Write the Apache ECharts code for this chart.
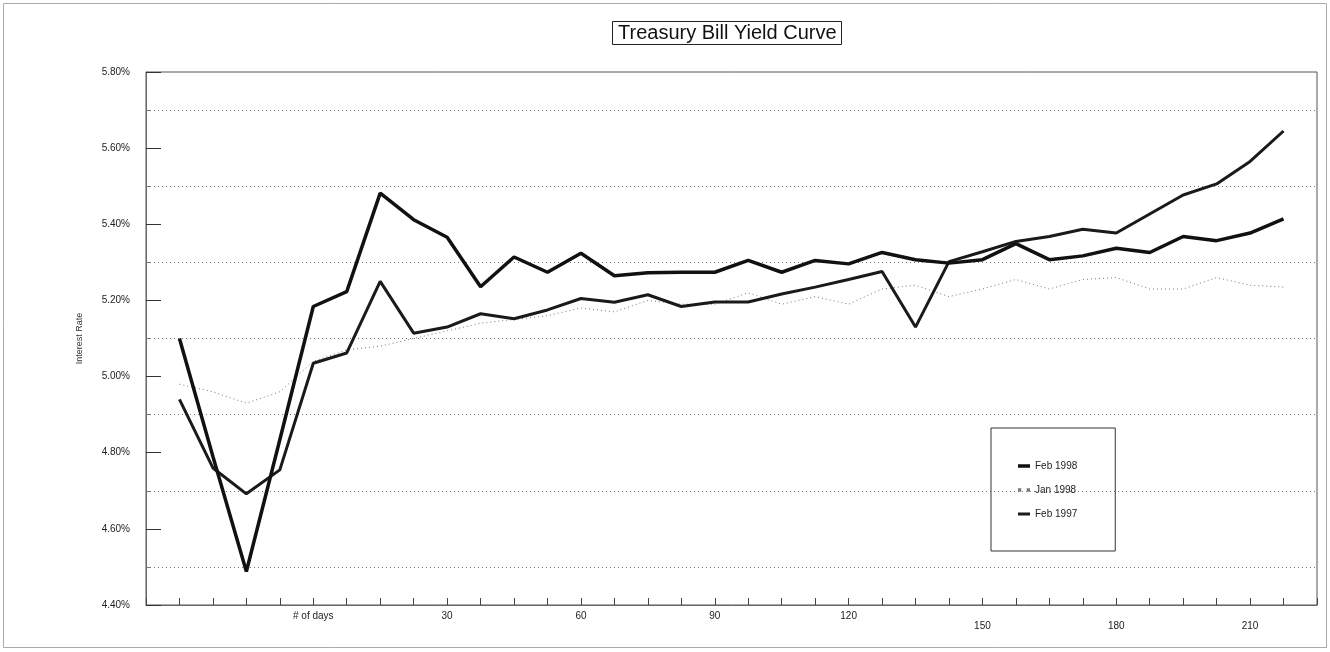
<!DOCTYPE html>
<html>
<head>
<meta charset="utf-8">
<title>Treasury Bill Yield Curve</title>
<script src="https://cdn.jsdelivr.net/npm/echarts@6/dist/echarts.min.js"></script>
<style>
  html, body { margin: 0; padding: 0; background: #fff; }
  #chart { width: 1330px; height: 652px; }
</style>
</head>
<body>
<div id="chart"></div>
<script>
// x positions 0..35, data runs from 1 to 34
const tickLabels = [
  '', '', '', '', '', '# of days', '', '', '', '30', '', '', '', '60',
  '', '', '', '90', '', '', '', '120', '', '', '', '150', '', '', '',
  '180', '', '', '', '210', '', ''
];
const lowLabels = ['150', '180', '210'];

const feb1998 = [5.10, 4.79, 4.488, 4.834, 5.184, 5.223, 5.482, 5.412, 5.366, 5.236,
  5.314, 5.274, 5.324, 5.265, 5.273, 5.274, 5.274, 5.305, 5.274, 5.305,
  5.296, 5.326, 5.307, 5.298, 5.307, 5.349, 5.307, 5.317, 5.337, 5.326,
  5.368, 5.357, 5.377, 5.414];
const jan1998 = [4.98, 4.96, 4.93, 4.96, 5.04, 5.07, 5.08, 5.10, 5.12, 5.14,
  5.15, 5.16, 5.18, 5.17, 5.20, 5.19, 5.19, 5.22, 5.19, 5.21,
  5.19, 5.23, 5.24, 5.21, 5.23, 5.255, 5.23, 5.255, 5.26, 5.23,
  5.23, 5.26, 5.24, 5.235];
const feb1997 = [4.94, 4.76, 4.692, 4.755, 5.035, 5.062, 5.25, 5.114, 5.13, 5.165,
  5.152, 5.175, 5.205, 5.195, 5.215, 5.184, 5.196, 5.196, 5.217, 5.235,
  5.255, 5.276, 5.13, 5.302, 5.328, 5.355, 5.368, 5.387, 5.377, 5.427,
  5.477, 5.506, 5.565, 5.645];

const font = "'Liberation Sans', Arial, sans-serif";
const pad = arr => [null].concat(arr);

const chart = echarts.init(document.getElementById('chart'));
chart.setOption({
  backgroundColor: '#fff',
  animation: false,
  textStyle: { fontFamily: font },
  title: {
    text: 'Treasury Bill Yield Curve',
    left: 612,
    top: 21,
    padding: [2, 5, 2, 6],
    borderColor: '#222',
    borderWidth: 1,
    textStyle: { fontSize: 20, fontWeight: 'normal', color: '#111', fontFamily: font }
  },
  graphic: [{
    type: 'rect',
    shape: { x: 3.5, y: 3.5, width: 1323, height: 644 },
    style: { fill: 'none', stroke: '#aaa', lineWidth: 1 },
    silent: true
  }],
  legend: {
    orient: 'vertical',
    left: 991,
    top: 428,
    padding: [33, 38, 32, 27],
    itemGap: 14,
    itemWidth: 12,
    itemHeight: 8,
    borderColor: '#333',
    borderWidth: 1,
    textStyle: { fontSize: 10, color: '#222', fontFamily: font },
    data: [
      { name: 'Feb 1998', icon: 'path://M0,3h12v3.5h-12z', itemStyle: { color: '#111' } },
      { name: 'Jan 1998', icon: 'path://M3,4h1.5v1.5h-1.5zM7,4h1.5v1.5h-1.5z', itemStyle: { color: '#777' } },
      { name: 'Feb 1997', icon: 'path://M0,3h12v3h-12z', itemStyle: { color: '#1a1a1a' } }
    ]
  },
  grid: {
    left: 146, right: 13, top: 72, bottom: 47,
    show: true, borderColor: '#555', borderWidth: 1,
    containLabel: false
  },
  xAxis: {
    type: 'category',
    boundaryGap: false,
    data: tickLabels.map((_, i) => String(i)),
    axisLine: { lineStyle: { color: '#666', width: 1 } },
    axisTick: { show: true, inside: true, length: 7, interval: 0, lineStyle: { color: '#444' } },
    axisLabel: {
      interval: 0,
      margin: 6,
      fontSize: 10,
      color: '#222',
      formatter: (v, i) => {
        const t = tickLabels[i];
        if (!t) return '';
        return lowLabels.includes(t) ? '{lo|' + t + '}' : t;
      },
      rich: { lo: { fontSize: 10, color: '#222', padding: [10, 0, 0, 0] } }
    },
    splitLine: { show: false }
  },
  yAxis: {
    type: 'value',
    min: 4.4,
    max: 5.8,
    interval: 0.2,
    name: 'Interest Rate',
    nameLocation: 'middle',
    nameGap: 62,
    nameTextStyle: { fontSize: 9, color: '#333' },
    axisLine: { show: true, lineStyle: { color: '#666', width: 1 } },
    axisTick: { show: true, inside: true, length: 15, lineStyle: { color: '#333' } },
    minorTick: { show: true, splitNumber: 2, length: 4, lineStyle: { color: '#777' } },
    axisLabel: {
      margin: 16,
      fontSize: 10,
      color: '#222',
      formatter: v => v.toFixed(2) + '%'
    },
    splitLine: { show: false },
    minorSplitLine: { show: true, lineStyle: { color: '#777', type: [1, 3], width: 1 } }
  },
  series: [
    {
      name: 'Feb 1998',
      type: 'line',
      data: pad(feb1998),
      symbol: 'none',
      lineStyle: { color: '#111', width: 3.5 },
      itemStyle: { color: '#111' },
      z: 4
    },
    {
      name: 'Jan 1998',
      type: 'line',
      data: pad(jan1998),
      symbol: 'none',
      lineStyle: { color: '#777', width: 1, type: [1, 3] },
      itemStyle: { color: '#777' },
      z: 2
    },
    {
      name: 'Feb 1997',
      type: 'line',
      data: pad(feb1997),
      symbol: 'none',
      lineStyle: { color: '#1a1a1a', width: 3 },
      itemStyle: { color: '#1a1a1a' },
      z: 3
    }
  ]
});
</script>
</body>
</html>
